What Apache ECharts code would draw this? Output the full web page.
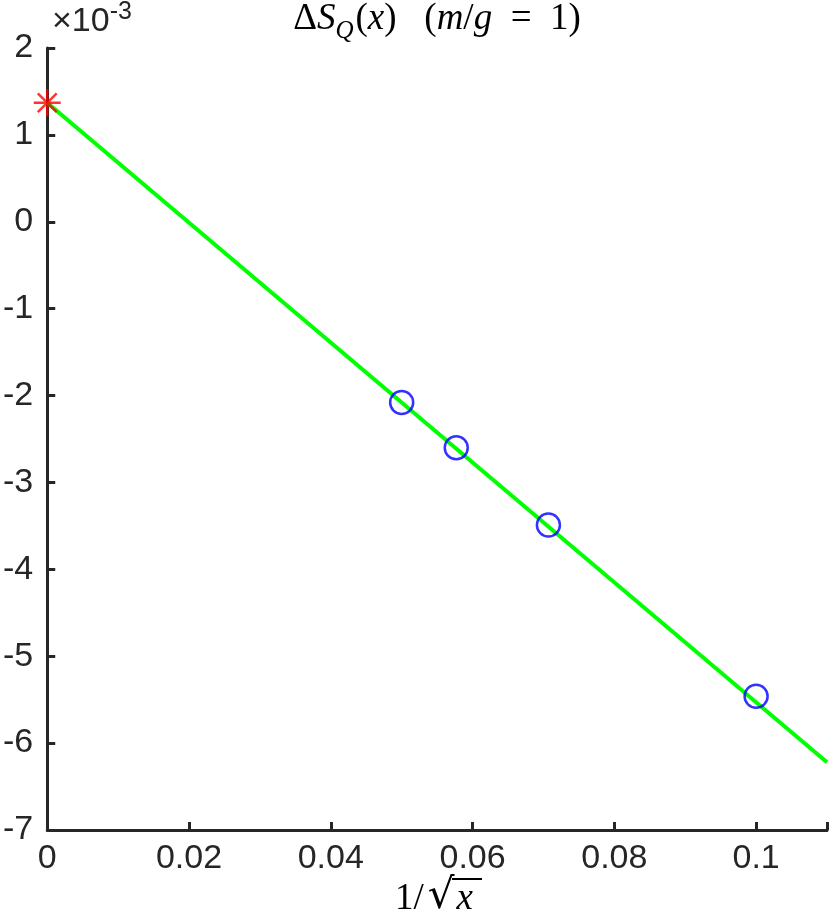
<!DOCTYPE html>
<html>
<head>
<meta charset="utf-8">
<script src="https://cdn.jsdelivr.net/npm/echarts@6/dist/echarts.min.js"></script>
<style>
  html, body { margin: 0; padding: 0; background: #fff; }
  #chart { width: 830px; height: 924px; }
</style>
</head>
<body>
<div id="chart"></div>
<script>
// values on the y axis are in units of 1e-3
const xTicks = [0, 0.02, 0.04, 0.06, 0.08, 0.1];
const yTicks = [-7, -6, -5, -4, -3, -2, -1, 0, 1, 2];

// measured points (1/sqrt(x), ΔS_Q)
const pointsX = [0.05, 0.0577, 0.0707, 0.1];
const pointsY = [-2.08, -2.60, -3.49, -5.46];

// fit line end points
const fitX = [0, 0.11];
const fitY = [1.37, -6.22];

// extrapolated value at 1/sqrt(x) = 0
const starX = [0];
const starY = [1.37];

const axisColor = "#262626";
const labelFont = "Liberation Sans";
const mathFont = "Liberation Serif";

const chart = echarts.init(document.getElementById("chart"));

const zip = (a, b) => a.map((v, i) => [v, b[i]]);

chart.setOption({
  animation: false,
  backgroundColor: "#fff",
  grid: { left: 46, right: 0, top: 48, bottom: 94, containLabel: false },
  graphic: [
    {
      // title
      type: "text",
      x: 437,
      y: 1,
      style: {
        align: "center",
        text: "{d|Δ}{i|S}{sub|Q}{n|(}{i|x}{n|)   (}{i|m}{n|/}{i|g}{n|  =  1)}",
        rich: {
          d: { fontFamily: mathFont, fontSize: 37, fill: "#000", verticalAlign: "bottom" },
          i: { fontFamily: mathFont, fontStyle: "italic", fontSize: 37, fill: "#000", verticalAlign: "bottom" },
          n: { fontFamily: mathFont, fontSize: 37, fill: "#000", verticalAlign: "bottom" },
          sub: { fontFamily: mathFont, fontStyle: "italic", fontSize: 25, fill: "#000", verticalAlign: "bottom", padding: [0, 2, -6, 0] }
        }
      }
    },
    {
      // exponent of the y axis
      type: "text",
      left: 52,
      top: 0,
      style: {
        text: "{a|×10}{b|-3}",
        rich: {
          a: { fontFamily: labelFont, fontSize: 34, fill: axisColor, verticalAlign: "bottom" },
          b: { fontFamily: labelFont, fontSize: 25, fill: axisColor, verticalAlign: "top", padding: [0, 0, 14, 0] }
        }
      }
    },
    {
      // x axis name
      type: "text",
      left: 395,
      top: 876,
      style: {
        text: "{n|1/}{r|√}{i|x}",
        rich: {
          n: { fontFamily: mathFont, fontSize: 37, fill: "#000", verticalAlign: "bottom", padding: [0, 4, 0, 0] },
          r: { fontFamily: "DejaVu Serif", fontSize: 42, fill: "#000", verticalAlign: "bottom" },
          i: { fontFamily: mathFont, fontStyle: "italic", fontSize: 37, fill: "#000", verticalAlign: "bottom", padding: [0, 2, 0, 2] }
        }
      }
    },
    {
      // overline of the radical
      type: "line",
      shape: { x1: 452, y1: 879, x2: 482, y2: 879 },
      style: { stroke: "#000", lineWidth: 2 }
    }
  ],
  xAxis: {
    type: "value",
    min: 0,
    max: 0.11,
    interval: 0.02,
    axisLine: { show: true, onZero: false, lineStyle: { color: axisColor, width: 3 } },
    axisTick: { show: true, inside: true, length: 8, lineStyle: { color: axisColor, width: 3 } },
    splitLine: { show: false },
    axisLabel: {
      color: axisColor,
      fontFamily: labelFont,
      fontSize: 34,
      margin: 12,
      formatter: function (v) {
        return xTicks.some(t => Math.abs(t - v) < 1e-9) ? String(+v.toFixed(2)) : "";
      }
    }
  },
  yAxis: {
    type: "value",
    min: -7,
    max: 2,
    interval: 1,
    axisLine: { show: true, onZero: false, lineStyle: { color: axisColor, width: 3 } },
    axisTick: { show: true, inside: true, length: 8, lineStyle: { color: axisColor, width: 3 } },
    splitLine: { show: false },
    axisLabel: {
      color: axisColor,
      fontFamily: labelFont,
      fontSize: 34,
      margin: 14,
      formatter: function (v) {
        return yTicks.includes(v) ? String(v) : "";
      }
    }
  },
  series: [
    {
      type: "line",
      data: zip(fitX, fitY),
      symbol: "none",
      lineStyle: { color: "#00ff00", width: 4 },
      z: 2
    },
    {
      type: "scatter",
      data: zip(pointsX, pointsY),
      symbol: "circle",
      symbolSize: 23,
      itemStyle: { color: "rgba(0,0,0,0)", borderColor: "#0000ff", borderWidth: 2.5 },
      z: 3
    },
    {
      type: "scatter",
      data: zip(starX, starY),
      symbol: "path://M0,-10L0,10M-10,0L10,0M-7,-7L7,7M-7,7L7,-7",
      symbolSize: 27,
      itemStyle: { color: "rgba(0,0,0,0)", borderColor: "#ff0000", borderWidth: 2.5 },
      clip: false,
      z: 4
    }
  ]
});
</script>
</body>
</html>
